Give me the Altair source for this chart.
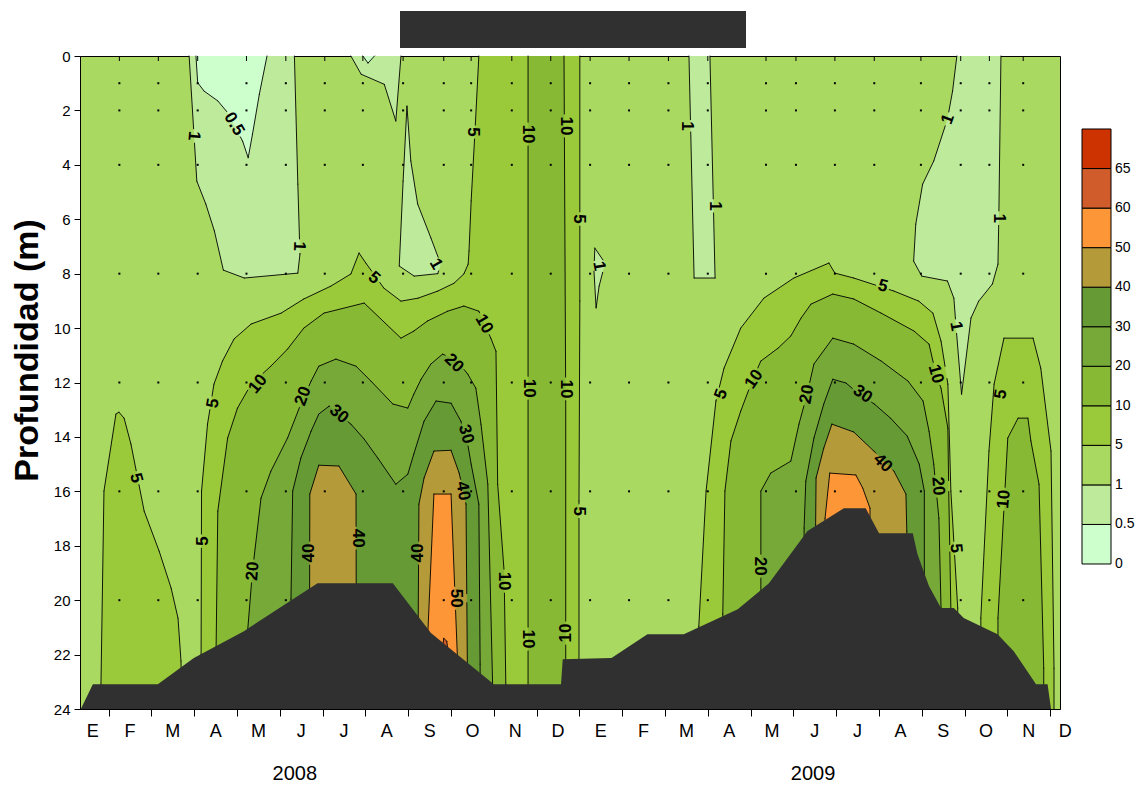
import altair as alt
import pandas as pd

# Month index: 0 = 1 Jan 2008, 12 = 1 Jan 2009 ; depth in metres
X_DOMAIN = [0.33, 23.23]
Y_DOMAIN = [0, 24]
PLOT_W, PLOT_H = 980, 653

MONTH_LETTERS = ["E", "F", "M", "A", "M", "J", "J", "A", "S", "O", "N", "D"] * 2
MONTH_LABEL_POS = [0.63] + [k + 0.5 for k in range(1, 23)] + [23.35]
MONTH_TICKS = list(range(1, 24))
YEAR_LABELS = ["2008", "2009"]
YEAR_POS = [5.35, 17.46]

# sampling dates (month index) and sampling depths
SAMPLE_MONTHS = [1.25, 2.16, 3.08, 4.22, 5.14, 6.05, 6.94, 7.88, 8.83, 9.47, 10.42, 11.33,
                 12.25, 13.16, 14.08, 15.0, 16.36, 17.06, 17.97, 18.89, 19.98, 20.91, 21.58, 22.37]
SAMPLE_DEPTHS = [1, 2, 4, 8, 12, 16, 20]

# bottom profile at the station
BOTTOM_MONTH = [0.35, 0.63, 2.15, 2.99, 4.16, 5.88, 7.64, 8.53, 10.0, 11.57, 11.61, 12.75,
                13.59, 14.44, 15.70, 16.43, 17.33, 18.18, 18.69, 19.0, 19.79, 19.90, 20.17,
                20.45, 20.75, 20.98, 21.77, 22.15, 22.67, 22.94, 23.02]
BOTTOM_DEPTH = [24.0, 23.09, 23.09, 22.13, 21.14, 19.38, 19.38, 21.21, 23.09, 23.09, 22.17,
                22.13, 21.25, 21.25, 20.33, 19.38, 17.46, 16.62, 16.62, 17.54, 17.54, 18.31,
                19.49, 20.29, 20.29, 20.66, 21.25, 21.88, 23.09, 23.09, 24.0]

# class limits and colours
LEVEL_LABELS = ["0", "0.5", "1", "5", "10", "20", "30", "40", "50", "60", "65"]
LEVEL_COLORS = ["#ccffcc", "#bdea9b", "#a9d960", "#9ac93a", "#87b935", "#76a938",
                "#669a35", "#b49a38", "#fd9636", "#d15c2b", "#cc3300"]

# contour regions (month index, depth) -- areas above a level
ABOVE_5 = [
    ([0.82, 0.89, 1.17, 1.24, 1.36, 1.52, 1.83, 2.18, 2.46, 2.62, 2.69, 2.71, 0.82],
     [23.09, 15.99, 13.16, 13.09, 13.31, 14.26, 16.73, 18.20, 19.56, 20.66, 22.24, 24.0, 24.0]),
    ([3.16, 3.16, 3.17, 3.31, 3.46, 3.66, 3.93, 4.33, 5.03, 5.56, 6.19, 6.66, 6.85, 7.01, 7.43,
      7.83, 8.23, 8.69, 9.07, 9.30, 9.40, 9.42, 9.47, 9.56, 9.65, 12.01, 12.01, 11.99, 11.99],
     [24.0, 21.99, 15.99, 13.53, 12.06, 11.21, 10.40, 9.85, 9.45, 8.93, 8.46, 8.01, 7.24, 7.61,
      8.53, 9.01, 8.90, 8.64, 8.35, 8.01, 7.65, 7.17, 5.33, 2.76, 0.0, 0.0, 9.01, 16.36, 24.0]),
    ([14.79, 14.79, 14.96, 15.19, 15.38, 15.77, 16.31, 17.01, 17.83, 17.97, 18.41, 19.35, 19.93,
      20.26, 20.45, 20.61, 20.68, 20.84, 20.84],
     [24.0, 20.96, 15.99, 12.68, 11.47, 10.00, 8.90, 8.16, 7.61, 7.98, 8.16, 8.64, 9.01, 9.45,
      10.48, 12.06, 15.99, 20.29, 24.0]),
    ([21.38, 21.38, 21.57, 21.69, 21.92, 22.60, 22.78, 23.02, 23.09, 23.09],
     [24.0, 20.66, 14.52, 12.06, 10.37, 10.37, 11.47, 14.52, 22.50, 24.0]),
]
ABOVE_10 = [
    ([3.51, 3.51, 3.55, 3.78, 4.01, 4.33, 4.79, 5.18, 5.56, 6.03, 6.97, 7.83, 8.13, 8.45, 8.92,
      9.30, 9.65, 9.93, 10.05, 10.09, 10.24, 10.28, 10.28],
     [24.0, 21.80, 16.73, 14.04, 12.94, 12.06, 11.40, 10.77, 10.00, 9.45, 9.08, 10.37, 10.11,
      9.74, 9.38, 9.19, 9.38, 10.37, 10.85, 15.74, 18.93, 23.09, 24.0]),
    ([10.80, 11.64, 11.68, 11.68, 10.80], [0.0, 0.0, 12.68, 24.0, 24.0]),
    ([15.35, 15.35, 15.40, 15.54, 15.77, 16.05, 16.24, 16.64, 16.94, 17.18, 17.41, 17.92, 18.41,
      19.05, 19.82, 20.17, 20.33, 20.45, 20.61, 20.63, 20.68, 20.68],
     [24.0, 20.51, 15.99, 14.15, 13.05, 11.88, 11.21, 10.74, 10.29, 9.63, 9.12, 8.75, 8.93, 9.45,
      10.11, 10.59, 11.69, 12.21, 13.68, 15.99, 20.33, 24.0]),
    ([21.78, 21.78, 22.01, 22.25, 22.48, 22.55, 22.74, 22.85, 22.85],
     [24.0, 20.66, 14.04, 13.31, 13.31, 14.15, 15.74, 22.50, 24.0]),
]
ABOVE_20 = [
    ([4.25, 4.25, 4.36, 4.56, 4.79, 5.18, 5.49, 5.73, 5.91, 6.31, 6.78, 7.13, 7.64, 7.99, 8.13,
      8.30, 8.53, 8.80, 9.11, 9.39, 9.58, 9.70, 9.86, 9.97, 9.97],
     [24.0, 21.07, 18.93, 16.25, 15.26, 14.04, 12.79, 11.95, 11.40, 11.14, 11.40, 11.95, 12.79,
      12.94, 12.43, 11.88, 11.32, 10.96, 11.14, 11.69, 12.21, 13.53, 15.74, 22.98, 24.0]),
    ([16.24, 16.24, 16.47, 16.94, 17.13, 17.32, 17.48, 17.92, 18.41, 19.05, 19.68, 20.03, 20.17,
      20.28, 20.40, 20.45, 20.45],
     [24.0, 15.99, 15.33, 14.89, 13.53, 12.43, 11.32, 10.37, 10.59, 11.21, 11.95, 12.68, 13.79,
      15.00, 16.99, 20.29, 24.0]),
]
ABOVE_30 = [
    ([5.26, 5.26, 5.30, 5.49, 5.73, 5.91, 6.15, 6.66, 6.97, 7.29, 7.71, 7.99, 8.13, 8.37, 8.65,
      9.00, 9.23, 9.39, 9.47, 9.65, 9.68, 9.68],
     [24.0, 19.96, 15.99, 14.78, 13.79, 13.16, 12.87, 13.53, 14.08, 14.78, 15.74, 15.37, 14.63,
      13.42, 12.68, 12.76, 13.42, 14.26, 15.00, 16.47, 22.35, 24.0]),
    ([17.25, 17.25, 17.29, 17.48, 17.71, 17.92, 18.23, 18.54, 18.89, 19.27, 19.66, 19.94, 20.06,
      20.06],
     [24.0, 17.35, 15.63, 14.04, 12.79, 11.88, 12.02, 12.43, 12.79, 13.31, 13.97, 15.00, 15.99,
      24.0]),
]
ABOVE_40 = [
    ([5.69, 5.70, 5.91, 6.38, 6.78, 6.79], [24.0, 16.10, 15.04, 15.07, 16.10, 24.0]),
    ([8.22, 8.25, 8.37, 8.60, 9.00, 9.19, 9.35, 9.39],
     [24.0, 16.47, 15.51, 14.52, 14.49, 15.33, 16.47, 24.0]),
    ([17.48, 17.53, 17.71, 17.90, 18.41, 18.88, 19.35, 19.63, 19.65, 19.65],
     [24.0, 15.51, 14.41, 13.53, 13.82, 14.52, 15.26, 16.10, 17.46, 24.0]),
]
ABOVE_50 = [
    ([8.44, 8.46, 8.60, 9.00, 9.15, 9.16], [24.0, 21.14, 16.10, 16.10, 22.13, 24.0]),
    ([17.74, 17.74, 17.85, 18.46, 18.62, 18.79, 18.79],
     [24.0, 16.99, 15.33, 15.40, 15.88, 16.62, 24.0]),
]
ABOVE_60 = [
    ([8.79, 8.83, 8.90, 8.93], [21.88, 21.40, 21.51, 21.88]),
]
# areas below a level
BELOW_1 = [
    ([2.88, 3.06, 3.27, 3.47, 3.68, 4.17, 5.42, 5.47, 5.42, 5.34],
     [0.0, 4.60, 5.44, 6.43, 7.87, 8.16, 7.98, 7.28, 4.71, 0.0]),
    ([6.66, 6.90, 7.44, 7.71, 7.83], [0.0, 0.67, 1.04, 2.39, 0.0]),
    ([7.97, 8.06, 8.22, 8.53, 8.76, 8.69, 8.14, 7.79, 7.88],
     [1.84, 3.86, 5.44, 6.69, 7.65, 8.00, 8.09, 7.72, 4.60]),
    ([12.36, 12.60, 12.46, 12.39, 12.34], [7.06, 7.61, 8.46, 9.26, 7.90]),
    ([14.56, 14.68, 15.17, 15.05], [0.0, 8.16, 8.16, 0.0]),
    ([20.82, 20.72, 20.60, 20.28, 20.02, 19.86, 19.81, 20.00, 20.60, 20.75, 20.80, 20.93, 21.15,
      21.33, 21.65, 21.78, 21.80, 21.85],
     [0.0, 1.29, 2.32, 3.86, 4.71, 6.18, 7.54, 8.09, 8.27, 8.90, 9.93, 12.43, 9.63, 9.01, 8.38,
      7.65, 5.96, 0.0]),
]
BELOW_05 = [
    ([3.04, 3.08, 3.23, 3.55, 3.78, 4.13, 4.26, 4.36, 4.52, 4.70],
     [0.0, 0.98, 1.29, 1.65, 2.08, 3.13, 3.74, 2.88, 1.41, 0.0]),
    ([6.94, 7.06, 7.21], [0.0, 0.26, 0.0]),
]

# contour labels
LABEL_TEXT = ["0.5", "1", "1", "1", "5", "5", "10", "10", "5", "1", "10", "20", "30", "40",
              "50", "40", "40", "40", "30", "20", "10", "5", "5", "20", "5", "10", "10", "10",
              "10", "10", "5", "1", "1", "5", "10", "20", "30", "40", "5", "10", "20", "5",
              "20", "1", "1", "1", "5", "10"]
LABEL_MONTH = [3.93, 2.99, 5.45, 8.65, 7.20, 9.51, 10.80, 11.68, 11.99, 12.46, 9.77, 9.07,
               9.35, 9.28, 9.11, 8.23, 6.83, 5.68, 6.38, 5.54, 4.49, 3.44, 3.20, 4.37, 1.64,
               10.24, 10.82, 11.68, 10.80, 11.68, 11.99, 14.51, 15.17, 15.31, 16.08, 17.32,
               18.62, 19.09, 19.09, 20.33, 20.38, 20.80, 16.22, 20.61, 20.80, 21.80, 21.85,
               21.92]
LABEL_DEPTH = [2.50, 2.94, 6.99, 7.65, 8.16, 2.79, 2.87, 2.57, 5.99, 7.72, 9.85, 11.29, 13.90,
               15.99, 19.93, 18.27, 17.72, 18.27, 13.16, 12.50, 12.06, 12.76, 17.83, 18.93,
               15.51, 19.30, 12.21, 12.24, 21.43, 21.21, 16.73, 2.57, 5.51, 12.43, 11.88,
               12.43, 12.43, 14.96, 8.46, 11.69, 15.81, 18.09, 18.75, 2.32, 9.93, 5.96, 12.43,
               16.29]
LABEL_ANGLE = [60, 95, 92, 60, 40, 90, 90, 90, 90, 80, 60, 45, 75, 80, 90, 270, 90, 270, 40,
               290, 310, 280, 270, 275, 75, 90, 90, 90, 90, 270, 90, 90, 90, 290, 305, 280, 35,
               45, 15, 75, 85, 85, 90, 290, 80, 90, 280, 275]

FONT = "Liberation Sans"
LABEL_SIZE = 17
DARK = "#303030"

x_axis = alt.Axis(values=MONTH_TICKS, labels=False, tickSize=7, tickColor="black",
                  domainColor="black", grid=False, title=None)
y_axis = alt.Axis(values=list(range(0, 25, 2)), tickSize=6, tickColor="black",
                  domainColor="black", grid=False, labelFontSize=15, labelColor="black",
                  labelPadding=4, title="Profundidad (m)", titleFontSize=34,
                  titleFontWeight="bold", titleColor="black", titleAngle=-90,
                  titleAlign="center", titleBaseline="bottom", titleX=-36, titleY=294)
xs = alt.Scale(domain=X_DOMAIN, nice=False, zero=False)
ys = alt.Scale(domain=Y_DOMAIN, reverse=True, nice=False, zero=False)
X = alt.X("m:Q", scale=xs, axis=x_axis)
Y = alt.Y("d:Q", scale=ys, axis=y_axis)


def to_px(m, d):
    return ((m - X_DOMAIN[0]) * PLOT_W / (X_DOMAIN[1] - X_DOMAIN[0]), d * PLOT_H / 24.0)


def text_width(t):
    return sum(0.278 if ch == "." else 0.556 for ch in t) * LABEL_SIZE


# each label interrupts the contour line it sits on
GAPS = [(to_px(m, d), text_width(t) / 2 + 2.5)
        for m, d, t in zip(LABEL_MONTH, LABEL_DEPTH, LABEL_TEXT)]


def visible_parts(p0, p1):
    (x0, y0), (x1, y1) = to_px(*p0), to_px(*p1)
    dx, dy = x1 - x0, y1 - y0
    a = dx * dx + dy * dy
    cuts = []
    for (cx, cy), r in GAPS:
        fx, fy = x0 - cx, y0 - cy
        b = 2 * (fx * dx + fy * dy)
        c = fx * fx + fy * fy - r * r
        disc = b * b - 4 * a * c
        if a == 0 or disc <= 0:
            continue
        s = disc ** 0.5
        lo, hi = max((-b - s) / (2 * a), 0.0), min((-b + s) / (2 * a), 1.0)
        if lo < hi:
            cuts.append((lo, hi))
    cuts.sort()
    parts, t = [], 0.0
    for lo, hi in cuts:
        if lo > t:
            parts.append((t, lo))
        t = max(t, hi)
    if t < 1.0:
        parts.append((t, 1.0))
    return parts


def region_fill(polys, color):
    rows = []
    for pid, (ms, ds) in enumerate(polys):
        for i, (m, d) in enumerate(zip(ms, ds)):
            rows.append({"pid": pid, "i": i, "m": m, "d": d})
    return alt.Chart(pd.DataFrame(rows)).mark_line(
        fill=color, strokeWidth=0, strokeOpacity=0
    ).encode(x=X, y=Y, detail="pid:N", order="i:Q")


ALL_REGIONS = [(ABOVE_5, 3), (ABOVE_10, 4), (ABOVE_20, 5), (ABOVE_30, 6), (ABOVE_40, 7),
               (ABOVE_50, 8), (ABOVE_60, 9), (BELOW_1, 1), (BELOW_05, 0)]

layers = [region_fill(polys, LEVEL_COLORS[k]) for polys, k in ALL_REGIONS]

# contour lines = region outlines, broken where a label is written
seg_rows, sid = [], 0
for polys, _ in ALL_REGIONS:
    for ms, ds in polys:
        pts = list(zip(ms, ds)) + [(ms[0], ds[0])]
        for p0, p1 in zip(pts[:-1], pts[1:]):
            if (p0[1] == p1[1]) and p0[1] in (0.0, 24.0):
                continue
            for t0, t1 in visible_parts(p0, p1):
                for i, t in enumerate((t0, t1)):
                    seg_rows.append({"sid": sid, "i": i,
                                     "m": p0[0] + t * (p1[0] - p0[0]),
                                     "d": p0[1] + t * (p1[1] - p0[1])})
                sid += 1
layers.append(alt.Chart(pd.DataFrame(seg_rows)).mark_line(
    color="black", strokeWidth=0.9, strokeCap="round"
).encode(x=X, y=Y, detail="sid:N", order="i:Q"))

dots_df = pd.DataFrame([(m, d) for m in SAMPLE_MONTHS for d in SAMPLE_DEPTHS], columns=["m", "d"])
layers.append(alt.Chart(dots_df).mark_square(size=4, color="black", opacity=1).encode(x=X, y=Y))

bottom_df = pd.DataFrame({"m": BOTTOM_MONTH, "d": BOTTOM_DEPTH, "floor": 24.0})
layers.append(alt.Chart(bottom_df).mark_area(color=DARK, opacity=1).encode(x=X, y=Y, y2="floor:Q"))

labels_df = pd.DataFrame({"m": LABEL_MONTH, "d": LABEL_DEPTH, "t": LABEL_TEXT, "a": LABEL_ANGLE})
layers.append(alt.Chart(labels_df).mark_text(
    font=FONT, fontSize=LABEL_SIZE, fontWeight="bold", color="black", align="center",
    baseline="middle"
).encode(x=X, y=Y, text="t:N", angle=alt.Angle("a:Q", scale=None)))

top_ticks = pd.DataFrame({"m": SAMPLE_MONTHS})
layers.append(alt.Chart(top_ticks).mark_rule(color="black", strokeWidth=1).encode(
    x=X, y=alt.value(0), y2=alt.value(5)))

months_df = pd.DataFrame({"m": MONTH_LABEL_POS, "t": MONTH_LETTERS})
layers.append(alt.Chart(months_df).mark_text(
    font=FONT, fontSize=18, color="black", align="center", baseline="middle"
).encode(x=X, y=alt.value(676), text="t:N"))

years_df = pd.DataFrame({"m": YEAR_POS, "t": YEAR_LABELS})
layers.append(alt.Chart(years_df).mark_text(
    font=FONT, fontSize=20, color="black", align="center", baseline="middle"
).encode(x=X, y=alt.value(718), text="t:N"))

# dark banner above the plot
layers.append(alt.Chart(pd.DataFrame({"k": [0]})).mark_rect(color=DARK).encode(
    x=alt.value(320), x2=alt.value(666), y=alt.value(-45), y2=alt.value(-8)))

main = alt.layer(*layers).properties(
    width=PLOT_W, height=PLOT_H,
    view=alt.ViewBackground(fill=LEVEL_COLORS[2], stroke="black", strokeWidth=1),
)

# colour key
leg_df = pd.DataFrame({"lo": list(range(11)), "hi": [i + 1 for i in range(11)],
                       "c": LEVEL_COLORS, "t": LEVEL_LABELS})
ly = alt.Scale(domain=[-3.667, 12.846], nice=False, zero=False)
leg_boxes = alt.Chart(leg_df).mark_rect(stroke="black", strokeWidth=1).encode(
    x=alt.value(0), x2=alt.value(29),
    y=alt.Y("lo:Q", scale=ly, axis=None), y2="hi:Q",
    fill=alt.Fill("c:N", scale=None))
leg_text = alt.Chart(leg_df).mark_text(
    font=FONT, fontSize=14, color="black", align="left", baseline="middle"
).encode(x=alt.value(33), y=alt.Y("lo:Q", scale=ly, axis=None), text="t:N")
legend = alt.layer(leg_boxes, leg_text).properties(
    width=29, height=PLOT_H, view=alt.ViewBackground(stroke="transparent"))

chart = alt.hconcat(main, legend, spacing=8).properties(
    padding={"left": 9, "top": 10, "right": 0, "bottom": 0}
).configure(font=FONT)

chart.save("out.html", embed_options={"renderer": "svg", "actions": False})
